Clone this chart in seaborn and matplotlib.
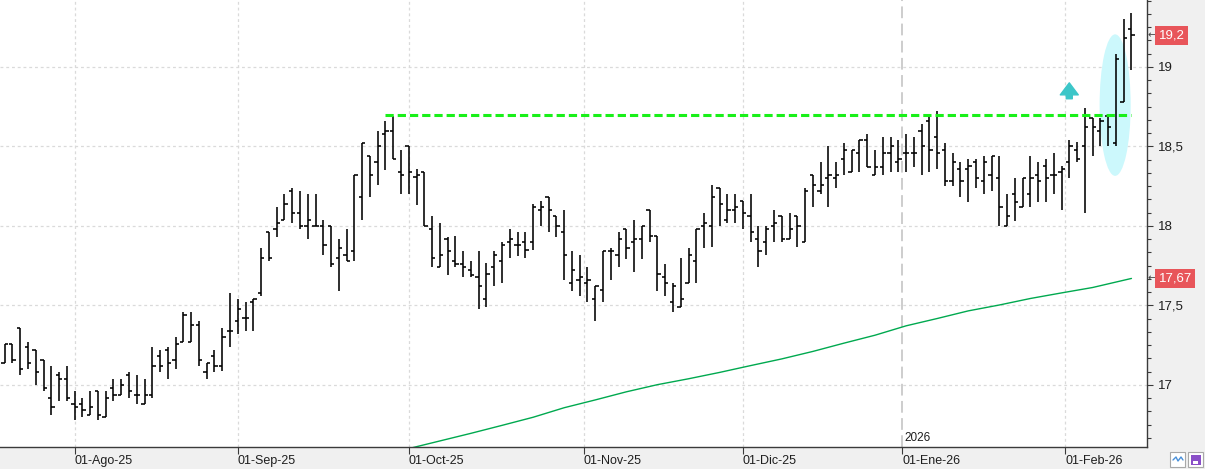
import numpy as np
import pandas as pd
import matplotlib
matplotlib.use("Agg")
import matplotlib.pyplot as plt
import matplotlib.transforms as mtransforms
from matplotlib.patches import Ellipse, Rectangle
from matplotlib.lines import Line2D
from matplotlib.ticker import MultipleLocator, FuncFormatter
import seaborn as sns

# ---------------- data ----------------
trading_start = "2025-07-21"
trading_end = "2026-02-12"
market_holidays = ["2025-12-25", "2025-12-26", "2026-01-01"]

opens = [17.14, 17.26, 17.36, 17.24, 17.22, 17.16, 16.92, 17.06, 17.04, 16.88,
         16.88, 16.81, 16.96, 16.80, 16.98, 16.94, 17.06, 16.94, 16.88, 16.94,
         17.18, 17.22, 17.16, 17.27, 17.27, 17.38, 17.08, 17.18, 17.12, 17.34,
         17.40, 17.42, 17.52, 17.58, 17.96, 17.98, 18.04, 18.22, 18.08, 18.00,
         18.00, 18.00, 18.00, 17.80, 17.82, 17.84, 18.18, 18.44, 18.40, 18.58,
         18.60, 18.34, 18.50, 18.31, 18.34, 17.98, 17.74, 17.92, 17.78, 17.76,
         17.72, 17.68, 17.54, 17.74, 17.78, 17.90, 17.88, 17.90, 17.90, 18.10,
         18.18, 18.06, 17.96, 17.64, 17.66, 17.64, 17.54, 17.60, 17.84, 17.82,
         17.98, 17.90, 17.92, 18.10, 17.94, 17.68, 17.52, 17.49, 17.64, 17.78,
         18.00, 18.00, 18.24, 18.04, 18.10, 18.16, 18.06, 17.92, 17.90, 18.00,
         18.06, 17.92, 18.06, 17.90, 18.32, 18.22, 18.30, 18.30, 18.42, 18.34,
         18.46, 18.54, 18.32, 18.37, 18.46, 18.40, 18.46, 18.46, 18.60, 18.66,
         18.56, 18.48, 18.28, 18.36, 18.36, 18.40, 18.28, 18.32, 18.30, 18.00,
         18.20, 18.12, 18.20, 18.32, 18.38, 18.32, 18.34, 18.40, 18.48, 18.50,
         18.68, 18.60, 18.69, 18.52, 18.78, 19.24]
highs = [17.26, 17.26, 17.36, 17.27, 17.22, 17.16, 17.12, 17.08, 17.12, 16.96,
         16.92, 16.96, 16.96, 16.96, 17.04, 17.04, 17.08, 17.06, 17.04, 17.24,
         17.22, 17.24, 17.30, 17.46, 17.46, 17.40, 17.14, 17.22, 17.36, 17.58,
         17.54, 17.52, 17.54, 17.86, 17.96, 18.12, 18.20, 18.24, 18.22, 18.20,
         18.20, 18.04, 18.00, 17.92, 17.98, 18.32, 18.52, 18.44, 18.60, 18.66,
         18.69, 18.48, 18.50, 18.36, 18.34, 18.06, 18.02, 17.93, 17.94, 17.84,
         17.78, 17.84, 17.77, 17.84, 17.90, 17.98, 17.96, 17.96, 18.14, 18.16,
         18.18, 18.06, 18.10, 17.84, 17.82, 17.74, 17.62, 17.84, 17.86, 17.96,
         17.98, 18.04, 18.00, 18.10, 17.94, 17.76, 17.64, 17.80, 17.86, 17.98,
         18.08, 18.26, 18.24, 18.20, 18.20, 18.16, 18.20, 18.00, 18.00, 18.10,
         18.06, 18.08, 18.06, 18.24, 18.32, 18.40, 18.50, 18.40, 18.52, 18.48,
         18.54, 18.58, 18.48, 18.56, 18.56, 18.54, 18.58, 18.56, 18.64, 18.69,
         18.72, 18.52, 18.46, 18.40, 18.42, 18.42, 18.44, 18.44, 18.44, 18.20,
         18.30, 18.30, 18.44, 18.40, 18.42, 18.46, 18.38, 18.54, 18.53, 18.74,
         18.68, 18.68, 18.69, 19.08, 19.30, 19.34]
lows = [17.14, 17.14, 17.06, 17.10, 17.00, 16.96, 16.81, 16.90, 16.90, 16.78,
        16.80, 16.81, 16.78, 16.80, 16.90, 16.94, 16.92, 16.88, 16.88, 16.92,
        17.08, 17.04, 17.10, 17.27, 17.27, 17.12, 17.04, 17.08, 17.09, 17.24,
        17.32, 17.34, 17.34, 17.56, 17.78, 17.93, 18.04, 18.02, 17.98, 17.92,
        18.00, 17.82, 17.74, 17.59, 17.78, 17.78, 18.04, 18.18, 18.26, 18.35,
        18.42, 18.20, 18.20, 18.13, 18.00, 17.74, 17.74, 17.69, 17.74, 17.68,
        17.68, 17.48, 17.49, 17.62, 17.64, 17.80, 17.81, 17.80, 17.85, 18.00,
        17.96, 17.93, 17.66, 17.59, 17.56, 17.52, 17.40, 17.52, 17.66, 17.74,
        17.79, 17.71, 17.79, 17.90, 17.59, 17.56, 17.46, 17.49, 17.64, 17.64,
        17.86, 17.87, 18.00, 18.02, 18.02, 17.98, 17.90, 17.74, 17.82, 17.90,
        17.90, 17.92, 17.87, 17.90, 18.12, 18.20, 18.12, 18.24, 18.32, 18.34,
        18.34, 18.37, 18.32, 18.32, 18.34, 18.34, 18.34, 18.37, 18.32, 18.34,
        18.36, 18.25, 18.25, 18.18, 18.15, 18.24, 18.20, 18.22, 18.00, 18.00,
        18.03, 18.12, 18.12, 18.15, 18.15, 18.20, 18.10, 18.30, 18.40, 18.08,
        18.44, 18.50, 18.50, 18.50, 18.78, 18.98]
closes = [17.26, 17.16, 17.10, 17.14, 17.08, 16.98, 16.86, 17.04, 16.92, 16.86,
          16.84, 16.86, 16.81, 16.92, 16.94, 17.00, 16.96, 16.94, 16.94, 17.12,
          17.12, 17.14, 17.26, 17.44, 17.38, 17.16, 17.14, 17.12, 17.30, 17.34,
          17.48, 17.42, 17.54, 17.80, 17.80, 18.02, 18.14, 18.08, 18.00, 18.04,
          18.00, 17.88, 17.76, 17.86, 17.78, 18.32, 18.52, 18.32, 18.50, 18.60,
          18.42, 18.32, 18.34, 18.32, 18.00, 17.80, 17.82, 17.84, 17.76, 17.74,
          17.69, 17.62, 17.70, 17.82, 17.88, 17.92, 17.88, 17.85, 18.12, 18.12,
          18.10, 18.00, 17.82, 17.72, 17.68, 17.66, 17.62, 17.84, 17.84, 17.92,
          17.86, 17.92, 18.00, 17.94, 17.70, 17.64, 17.62, 17.54, 17.82, 17.98,
          18.02, 18.18, 18.14, 18.10, 18.12, 18.08, 17.96, 17.84, 17.98, 18.02,
          17.92, 17.98, 18.00, 18.22, 18.26, 18.26, 18.32, 18.32, 18.48, 18.48,
          18.54, 18.37, 18.37, 18.46, 18.50, 18.42, 18.46, 18.46, 18.50, 18.48,
          18.46, 18.28, 18.40, 18.28, 18.38, 18.30, 18.40, 18.44, 18.12, 18.06,
          18.15, 18.30, 18.30, 18.28, 18.30, 18.32, 18.36, 18.50, 18.42, 18.62,
          18.62, 18.66, 18.62, 19.05, 19.18, 19.20]

# moving average (bar number, value)
ma_bar = [52, 56, 60, 64, 68, 72, 76, 80, 84, 88, 92, 96, 100, 104, 108, 112,
          116, 120, 124, 128, 132, 136, 140, 145]
ma_value = [16.60, 16.648, 16.696, 16.746, 16.797, 16.857, 16.906, 16.957, 17.002,
            17.039, 17.079, 17.122, 17.164, 17.211, 17.263, 17.313, 17.372, 17.418,
            17.466, 17.503, 17.544, 17.579, 17.613, 17.67]

month_labels = ["01-Ago-25", "01-Sep-25", "01-Oct-25", "01-Nov-25",
                "01-Dic-25", "01-Ene-26", "01-Feb-26"]
year_label = "2026"

resistance_level = 18.70
resistance_start_bar = 49
resistance_end_bar = 145

# ---------------- style ----------------
sns.set_theme(style="white")
plt.rcParams["font.family"] = ["Liberation Sans", "DejaVu Sans"]

BAR_COLOR = "black"
MA_COLOR = "#00a94f"
GRID_COLOR = "#dadada"
AXIS_COLOR = "#3a3a3a"
LABEL_BOX = "#e8555a"

dates = pd.bdate_range(trading_start, trading_end)
dates = dates[~dates.isin(pd.to_datetime(market_holidays))]
n = len(opens)
x = np.arange(n)

# month tick positions from the trading calendar
periods = dates.to_period("M")
month_pos = []
for p in periods.unique()[1:]:
    first = int(np.argmax(periods == p))
    pos = first - (0.5 if dates[first].day != 1 else 0.0)
    month_pos.append(pos)
year_pos = month_pos[month_labels.index("01-Ene-26")]

fig = plt.figure(figsize=(12.05, 4.69), dpi=100, facecolor="#f0f0f0")
ax = fig.add_axes([0, 22 / 469, 1147 / 1205, 447 / 469])
ax.set_facecolor("white")

# grid
for v in np.arange(17.0, 19.01, 0.5):
    ax.axhline(v, color=GRID_COLOR, lw=0.9, ls=(0, (2.3, 2.3)), zorder=0)
for p in month_pos:
    if p == year_pos:
        ax.axvline(p, color="#c9c9c9", lw=1.3, ls=(0, (6.5, 3.0)), zorder=0)
    else:
        ax.axvline(p, color=GRID_COLOR, lw=0.9, ls=(0, (2.3, 2.3)), zorder=0)

# highlight ellipse around the breakout bars
ax.add_patch(Ellipse((142.9, 18.76), width=4.0, height=0.89,
                     facecolor="#ccf8fc", edgecolor="none", zorder=1))

# OHLC bars
ax.vlines(x, lows, highs, color=BAR_COLOR, lw=1.15, zorder=3)
ax.hlines(opens, x - 0.42, x, color=BAR_COLOR, lw=1.15, zorder=3)
ax.hlines(closes, x, x + 0.42, color=BAR_COLOR, lw=1.15, zorder=3)

# moving average
sns.lineplot(x=ma_bar, y=ma_value, color=MA_COLOR, lw=1.0, ax=ax, zorder=2)

# resistance line
ax.hlines(resistance_level, resistance_start_bar, resistance_end_bar,
          color="#19f019", lw=2.2, linestyles=[(0, (2.7, 1.3))], zorder=4)

# teal up arrow
ax.annotate("", xy=(137, 18.90), xytext=(137, 18.80),
            arrowprops=dict(arrowstyle="simple,head_length=0.72,head_width=1.08,tail_width=0.36",
                            color="#3cc6c8", shrinkA=0, shrinkB=0), zorder=5)

# axes limits
ax.set_xlim(-0.6, 147.0)
ax.set_ylim(16.61, 19.421)

# spines
for s in ["left", "top"]:
    ax.spines[s].set_visible(False)
for s in ["right", "bottom"]:
    ax.spines[s].set_color(AXIS_COLOR)
    ax.spines[s].set_linewidth(1.0)

# y axis on the right
ax.yaxis.tick_right()
ax.yaxis.set_major_locator(MultipleLocator(0.5))
ax.yaxis.set_minor_locator(MultipleLocator(1 / 12))
ax.yaxis.set_major_formatter(FuncFormatter(lambda v, p: f"{v:g}".replace(".", ",")))
ax.tick_params(axis="y", which="major", direction="out", length=4.3, width=0.8,
               color=AXIS_COLOR, labelsize=9.5, pad=3.6, labelcolor="#1e1e1e",
               right=True, left=False)
ax.tick_params(axis="y", which="minor", direction="out", length=2.9, width=0.8,
               color=AXIS_COLOR, right=True, left=False)

# x axis
ax.set_xticks(month_pos)
ax.set_xticklabels(month_labels, ha="left", fontsize=9, color="#1e1e1e")
ax.tick_params(axis="x", which="major", direction="out", length=4.8, width=0.8,
               color=AXIS_COLOR, pad=1, bottom=True)
ax.set_xlabel("")
ax.set_ylabel("")

# year label
ax.text(year_pos + 0.3, 0.006, year_label,
        transform=mtransforms.blended_transform_factory(ax.transData, ax.transAxes),
        fontsize=8.5, ha="left", va="bottom", color="#1e1e1e")

# price labels on the right axis
trans = mtransforms.blended_transform_factory(fig.transFigure, ax.transData)
for val in [closes[-1], ma_value[-1]]:
    txt = f"{val:.2f}".rstrip("0").rstrip(".").replace(".", ",")
    ax.text(1158.5 / 1205, val, txt, transform=trans, color="white", fontsize=9.5,
            va="center", ha="left", clip_on=False, zorder=6,
            bbox=dict(boxstyle="square,pad=0.26", fc=LABEL_BOX, ec="none"))
    ax.text(1147.5 / 1205, val, "\u2190", transform=trans, color="#444444",
            fontsize=7.5, va="center", ha="left", clip_on=False,
            family="DejaVu Sans")

# small toolbar icons at the bottom-right corner
W, H = 1205, 469
fig.patches.append(Rectangle((1170 / W, 2 / H), 15 / W, 15 / H, transform=fig.transFigure,
                             facecolor="white", edgecolor="#a8a8a8", lw=0.8))
fig.lines.append(Line2D([1173 / W, 1176 / W, 1178 / W, 1181 / W, 1183 / W],
                        [9 / H, 12 / H, 8 / H, 12 / H, 9 / H],
                        transform=fig.transFigure, color="#4a90d9", lw=1.0))
fig.patches.append(Rectangle((1188 / W, 2 / H), 15 / W, 15 / H, transform=fig.transFigure,
                             facecolor="white", edgecolor="#a8a8a8", lw=0.8))
fig.patches.append(Rectangle((1190.5 / W, 4 / H), 10 / W, 10 / H, transform=fig.transFigure,
                             facecolor="#8a4fc8", edgecolor="none"))
fig.patches.append(Rectangle((1193 / W, 5 / H), 5 / W, 3.5 / H, transform=fig.transFigure,
                             facecolor="white", edgecolor="none"))

fig.savefig("out.png", dpi=100, facecolor=fig.get_facecolor())
